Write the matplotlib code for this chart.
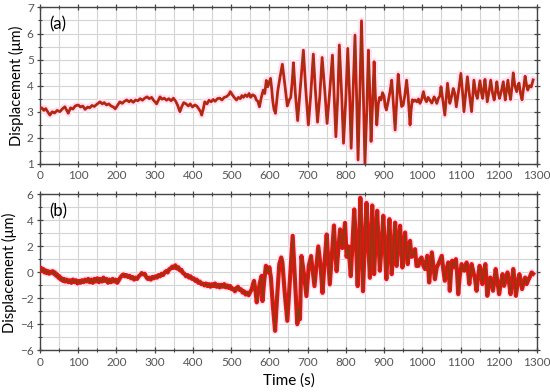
import matplotlib.pyplot as plt
from matplotlib.ticker import MultipleLocator

# panel (a): time (s) and displacement (um)
t_a = [0, 5, 10, 15, 20, 26, 32, 38, 45, 52, 58, 65, 70, 74, 80, 86, 92, 100, 106, 112,
       118, 125, 130, 136, 142, 150, 157, 163, 168, 174, 180, 186, 192, 197, 203, 209, 215,
       221, 227, 233, 238, 244, 250, 256, 262, 268, 274, 280, 286, 292, 297, 301, 305, 310,
       314, 319, 325, 331, 337, 343, 349, 355, 360, 366, 371, 376, 382, 388, 393, 399, 405,
       410, 415, 420, 423, 427, 431, 437, 442, 448, 453, 458, 464, 470, 476, 482, 488, 494,
       498, 503, 508, 514, 519, 524, 528, 532, 537, 542, 547, 551, 556, 562, 566, 570, 574,
       579, 584, 588, 592, 596, 600, 603, 606, 609, 612, 616, 622, 628, 634, 640, 647, 652,
       656, 660, 663, 668, 674, 681, 689, 695, 702, 708, 715, 720, 726, 732, 738, 745, 751,
       758, 765, 769, 774, 779, 783, 789, 794, 800, 805, 810, 814, 819, 824, 828, 832, 837,
       841, 846, 850, 855, 859, 863, 866, 870, 874, 877, 881, 885, 888, 892, 896, 900, 903,
       906, 911, 916, 920, 924, 929, 933, 937, 941, 946, 950, 954, 959, 963, 968, 971, 974,
       978, 981, 986, 990, 994, 998, 1003, 1007, 1011, 1015, 1018, 1022, 1025, 1031, 1035,
       1038, 1042, 1046, 1049, 1054, 1059, 1062, 1066, 1069, 1072, 1077, 1081, 1085, 1089,
       1095, 1101, 1105, 1109, 1113, 1118, 1123, 1129, 1132, 1135, 1140, 1144, 1148, 1151,
       1155, 1158, 1161, 1164, 1167, 1170, 1175, 1179, 1184, 1188, 1192, 1195, 1199, 1202,
       1207, 1212, 1215, 1217, 1221, 1224, 1228, 1231, 1235, 1238, 1242, 1247, 1250, 1253,
       1257, 1261, 1265, 1269, 1273, 1276, 1280, 1285, 1290]
d_a = [3.10, 3.15, 3.05, 3.12, 3.00, 2.87, 3.00, 2.95, 3.05, 3.00, 3.10, 3.19, 3.05, 2.94,
       3.15, 3.10, 3.22, 3.26, 3.18, 3.22, 3.09, 3.18, 3.15, 3.24, 3.20, 3.30, 3.38, 3.30,
       3.35, 3.26, 3.30, 3.22, 3.18, 3.11, 3.25, 3.38, 3.32, 3.40, 3.45, 3.38, 3.44, 3.36,
       3.45, 3.42, 3.50, 3.44, 3.52, 3.57, 3.50, 3.55, 3.44, 3.38, 3.30, 3.45, 3.57, 3.48,
       3.52, 3.44, 3.50, 3.42, 3.52, 3.40, 3.25, 3.00, 3.20, 3.35, 3.30, 3.22, 3.30, 3.18,
       3.26, 3.22, 3.12, 3.00, 2.87, 3.10, 3.38, 3.30, 3.44, 3.38, 3.47, 3.40, 3.50, 3.52,
       3.45, 3.55, 3.58, 3.66, 3.77, 3.65, 3.55, 3.45, 3.55, 3.50, 3.62, 3.55, 3.65, 3.58,
       3.70, 3.55, 3.65, 3.60, 3.45, 3.40, 3.19, 3.55, 3.83, 3.70, 4.20, 3.96, 4.15, 4.28,
       3.90, 3.40, 3.10, 2.94, 3.80, 4.34, 4.82, 4.10, 3.22, 3.45, 3.55, 4.20, 4.88, 3.70,
       2.66, 3.90, 5.36, 3.90, 2.49, 3.60, 5.21, 3.90, 2.60, 3.60, 5.08, 3.80, 2.55, 3.80,
       5.17, 3.80, 2.04, 3.60, 5.56, 3.70, 1.79, 3.50, 5.43, 3.60, 1.60, 3.80, 5.94, 3.70,
       1.15, 3.90, 6.49, 3.60, 1.00, 3.10, 5.36, 3.60, 1.86, 3.30, 4.92, 3.70, 2.49, 3.30,
       3.55, 3.45, 3.73, 3.60, 3.20, 3.07, 3.40, 3.80, 4.21, 3.40, 2.30, 3.40, 4.44, 3.80,
       3.20, 3.25, 3.60, 4.21, 3.60, 2.49, 3.10, 3.46, 3.40, 3.45, 3.38, 3.49, 3.32, 3.45,
       3.77, 3.50, 3.38, 3.55, 3.49, 3.40, 3.33, 3.57, 3.45, 3.32, 3.51, 3.60, 3.96, 3.40,
       2.87, 3.40, 4.09, 3.70, 3.32, 3.60, 3.89, 3.70, 3.19, 3.80, 4.47, 3.80, 3.00, 3.60,
       4.34, 3.70, 3.00, 3.60, 4.21, 3.70, 3.51, 3.90, 4.19, 3.70, 3.51, 3.90, 4.24, 3.80,
       3.38, 3.80, 4.21, 3.70, 3.45, 3.80, 4.15, 3.70, 3.51, 3.80, 4.15, 3.70, 3.45, 3.90,
       4.21, 3.70, 3.47, 4.00, 4.49, 4.00, 3.77, 4.00, 4.10, 3.70, 3.46, 3.90, 4.36, 4.00,
       3.83, 4.00, 3.95, 4.22]

# panel (b)
t_b = [0, 3, 6, 9, 12, 15, 18, 21, 24, 27, 30, 33, 36, 39, 42, 45, 48, 51, 54, 57, 60, 63,
       66, 70, 74, 78, 82, 86, 90, 94, 98, 102, 106, 110, 114, 118, 122, 126, 130, 134, 138,
       142, 146, 150, 154, 158, 162, 166, 170, 174, 178, 182, 186, 190, 194, 198, 202, 206,
       210, 214, 218, 222, 226, 230, 234, 238, 242, 246, 250, 254, 258, 262, 266, 270, 274,
       278, 282, 286, 290, 294, 298, 302, 306, 310, 314, 318, 322, 326, 330, 334, 338, 342,
       346, 350, 354, 358, 362, 366, 370, 374, 378, 382, 386, 390, 394, 398, 402, 406, 410,
       414, 418, 422, 426, 430, 434, 438, 442, 446, 450, 454, 458, 462, 466, 470, 474, 478,
       482, 486, 490, 494, 498, 502, 506, 510, 514, 518, 522, 526, 530, 534, 538, 542, 546,
       550, 554, 557, 560, 564, 567, 571, 575, 580, 582, 586, 591, 594, 597, 600, 604, 609,
       615, 620, 626, 631, 634, 640, 647, 654, 661, 667, 673, 677, 680, 684, 690, 697, 703,
       709, 714, 718, 723, 728, 734, 739, 745, 750, 754, 758, 764, 769, 772, 776, 781, 785,
       791, 798, 802, 807, 813, 818, 822, 827, 831, 835, 838, 842, 845, 850, 854, 859, 863,
       866, 869, 872, 874, 878, 882, 886, 889, 894, 898, 902, 906, 910, 914, 917, 920, 925,
       929, 933, 936, 942, 945, 948, 952, 955, 958, 962, 965, 968, 972, 975, 978, 981, 985,
       990, 994, 998, 1003, 1007, 1010, 1013, 1016, 1018, 1022, 1025, 1029, 1033, 1038, 1042,
       1047, 1051, 1055, 1059, 1064, 1068, 1070, 1072, 1075, 1078, 1083, 1088, 1091, 1094,
       1098, 1103, 1107, 1110, 1113, 1116, 1120, 1123, 1126, 1129, 1134, 1138, 1142, 1146,
       1150, 1154, 1157, 1161, 1165, 1168, 1170, 1174, 1178, 1182, 1185, 1189, 1192, 1197,
       1201, 1205, 1210, 1214, 1219, 1223, 1227, 1231, 1235, 1238, 1242, 1245, 1250, 1254,
       1258, 1261, 1265, 1269, 1273, 1277, 1282, 1286, 1290]
d_b = [0.20, 0.35, 0.10, 0.25, 0.00, 0.15, -0.05, 0.10, -0.10, 0.05, 0.00, 0.10, -0.10, 0.00,
       -0.25, -0.15, -0.40, -0.30, -0.55, -0.45, -0.65, -0.50, -0.70, -0.55, -0.75, -0.60,
       -0.80, -0.55, -0.75, -0.60, -0.85, -0.65, -0.80, -0.60, -0.75, -0.55, -0.70, -0.50,
       -0.75, -0.55, -0.80, -0.50, -0.70, -0.45, -0.75, -0.50, -0.70, -0.40, -0.65, -0.50,
       -0.80, -0.55, -0.75, -0.50, -0.70, -0.55, -0.80, -0.60, -0.40, -0.25, -0.15, -0.30,
       -0.20, -0.35, -0.25, -0.45, -0.35, -0.55, -0.40, -0.50, -0.30, -0.20, -0.05, -0.15,
       -0.10, -0.35, -0.50, -0.40, -0.55, -0.35, -0.45, -0.30, -0.40, -0.20, -0.30, -0.10,
       -0.20, 0.00, 0.10, 0.00, 0.25, 0.30, 0.45, 0.35, 0.55, 0.30, 0.40, 0.15, 0.20, -0.05,
       -0.10, -0.30, -0.20, -0.40, -0.30, -0.50, -0.45, -0.65, -0.55, -0.80, -0.70, -0.90,
       -0.85, -1.00, -0.85, -1.05, -0.90, -1.10, -0.90, -1.05, -0.85, -1.10, -0.95, -1.15,
       -0.95, -1.10, -0.90, -1.15, -1.00, -1.20, -1.05, -1.30, -1.25, -1.45, -1.20, -1.10,
       -1.35, -1.30, -1.55, -1.45, -1.70, -1.55, -1.75, -1.50, -1.28, -0.90, -0.65, -1.50,
       -2.30, -1.50, -0.80, -0.26, -2.20, -0.80, 0.51, 0.10, 0.00, 0.40, -0.40, -2.50, -4.49,
       -2.00, 0.64, 1.15, 0.80, -1.50, -3.72, -0.50, 2.82, -0.50, -3.98, -2.80, -3.60, 1.26,
       0.00, -1.82, 0.50, 1.26, 0.00, -1.05, 0.50, 2.00, 0.50, -1.57, 1.00, 2.92, 1.00, -0.92,
       1.50, 3.61, 1.80, 0.10, 2.00, 3.31, 1.88, 3.82, 1.20, 2.00, -0.28, 2.50, 4.85, 2.00,
       -1.05, 2.50, 5.74, 2.00, -1.44, 2.50, 5.35, 2.00, -0.41, 2.50, 5.15, 2.00, -0.13, 2.50,
       4.74, 2.00, 0.13, 2.20, 4.36, 2.00, -0.52, 2.00, 4.10, 2.00, -0.13, 2.00, 3.84, 0.50,
       1.80, 3.59, 1.80, 0.38, 1.80, 3.07, 1.70, 0.64, 1.80, 2.43, 1.20, 1.28, 1.50, 1.79,
       0.50, 0.51, 1.00, 1.15, 0.50, 0.26, 0.80, 1.28, 0.20, -0.77, 0.50, 1.54, 0.50, -0.52,
       0.40, 0.64, 1.00, 1.28, 0.20, -0.64, 0.30, 0.77, -0.20, -1.41, 0.00, 0.90, 0.40, 1.02,
       0.00, -1.67, -0.30, 0.64, 0.20, 0.13, 0.50, 0.77, 0.00, -0.90, 0.00, 0.64, 0.00, -0.52,
       -1.41, -0.30, 0.51, 0.00, -0.90, 0.00, 0.64, -0.60, -1.80, -1.00, -0.39, -0.80, -1.41,
       -0.50, 0.26, -0.80, -1.67, -0.90, -0.13, -1.03, -0.50, 0.00, -0.80, -1.67, -0.60, 0.26,
       -0.80, -1.80, -0.70, -0.13, -0.70, -1.28, -0.80, -0.39, -0.90, -0.60, -0.30, 0.00,
       -0.10]

x_ticks = list(range(0, 1400, 100))

plt.rcParams['font.family'] = ['Lato', 'DejaVu Sans']

fig = plt.figure(figsize=(5.5, 3.92), dpi=100)
ax_a = fig.add_axes([0.0727, 0.582, 0.9036, 0.399])
ax_b = fig.add_axes([0.0727, 0.106, 0.9036, 0.398])


def style(ax, ylim, ymaj, ymin):
    ax.set_xlim(0, 1300)
    ax.set_ylim(*ylim)
    ax.set_xticks(x_ticks)
    ax.xaxis.set_minor_locator(MultipleLocator(50))
    ax.yaxis.set_major_locator(MultipleLocator(ymaj))
    ax.yaxis.set_minor_locator(MultipleLocator(ymin))
    ax.grid(which='both', color='#d4d4d4', lw=0.8)
    ax.set_axisbelow(True)
    ax.tick_params(which='both', direction='inout', top=True, right=True,
                   labelsize=8.5, labelcolor='#555555', color='#444444', pad=2)
    ax.tick_params(which='major', length=5, width=0.9)
    ax.tick_params(which='minor', length=3, width=0.8)
    for s in ax.spines.values():
        s.set_color('#444444')
        s.set_linewidth(1.0)
    ax.set_ylabel('Displacement (μm)', fontsize=10.5, labelpad=2)


# red trace is thicker in (b), where the record is noisier
for ax, t, d, red_w in [(ax_a, t_a, d_a, 2.0), (ax_b, t_b, d_b, 3.0)]:
    ax.plot(t, d, color='#ffe2f3', lw=5, zorder=2)
    ax.plot(t, d, color='#ee1111', lw=red_w, zorder=3)
    ax.plot(t, d, color='#8b3a12', lw=1.0, zorder=4)

style(ax_a, (1, 7), 1, 0.5)
style(ax_b, (-6, 6), 2, 1)

ax_a.text(0.018, 0.86, '(a)', transform=ax_a.transAxes, fontsize=12)
ax_b.text(0.018, 0.86, '(b)', transform=ax_b.transAxes, fontsize=12)
ax_b.set_xlabel('Time (s)', fontsize=11, labelpad=4)

fig.savefig('out.png', dpi=100)
